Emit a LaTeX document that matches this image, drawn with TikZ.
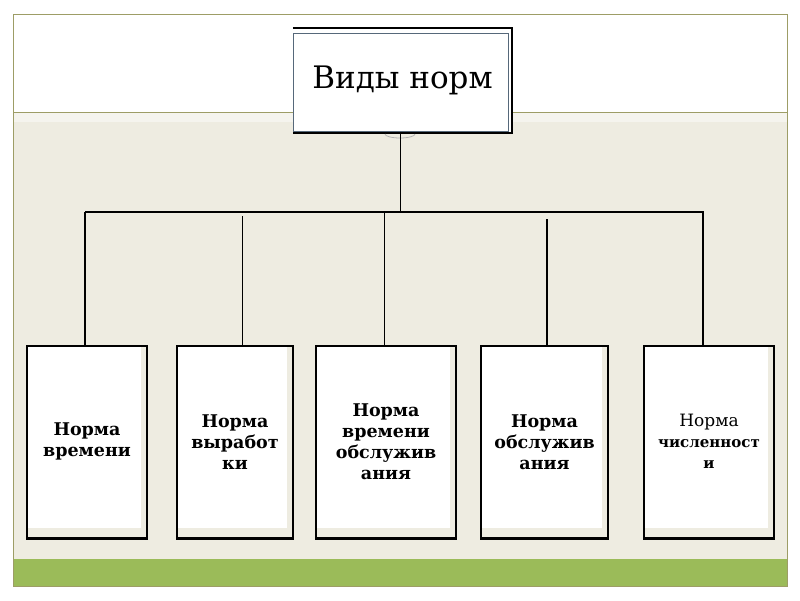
\documentclass[tikz,border=0pt]{standalone}
\usepackage{fontspec}
\setmainfont{DejaVu Serif}
\usetikzlibrary{positioning}
\definecolor{slidebeige}{HTML}{EEECE1}
\definecolor{slidepale}{HTML}{F5F4EE}
\definecolor{slidegreen}{HTML}{9BBB59}
\definecolor{slideline}{HTML}{9D9D66}
\definecolor{slate}{HTML}{56687A}

\begin{document}
\begin{tikzpicture}[
    x=1pt, y=-1pt,
    node distance=25pt,
    headbox/.style={fill=white, inner sep=0pt, minimum width=219pt, minimum height=105pt, font=\fontsize{31}{38}\selectfont},
    normbox/.style={draw=black, line width=1.5pt, fill=slidebeige, minimum height=192pt, inner sep=0pt, align=center, anchor=north,
        font=\fontsize{17.5}{21}\selectfont\bfseries,
        path picture={\fill[white] ([xshift=1pt,yshift=-1pt]path picture bounding box.north west) rectangle ([xshift=-6pt,yshift=10pt]path picture bounding box.south east);}},
    link/.style={draw=black, line width=0.8pt},
    boldlink/.style={draw=black, line width=1.6pt}
]
\useasboundingbox (0,0) rectangle (800,600);
% slide background
\fill[white] (0,0) rectangle (800,600);
\fill[slidepale] (13,112) rectangle (787,122);
\fill[slidebeige] (13,122) rectangle (787,559);
\fill[slidegreen] (13,559) rectangle (787,586);
\draw[slideline] (13,112) -- (787,112);
\draw[slideline] (13,14) rectangle (787,586);

% title box
\node[headbox] (0) at (402.5,80.5) {Виды норм};
\draw[slate, line width=0.6pt] ([yshift=-5pt]0.north west) rectangle ([xshift=-4pt,yshift=2pt]0.south east);
\draw[line width=2.5pt] (0.north west) -- (0.north east) -- (0.south east) -- (0.south west);
\draw[gray!60, line width=0.8pt] (385,134) arc[start angle=180, end angle=0, x radius=15, y radius=4];

% norm boxes
\node[normbox, minimum width=120pt] (1) at (87,345) {Норма\\времени};
\node[normbox, minimum width=116pt, right=28.5pt of 1] (2) {Норма\\выработ\\ки};
\node[normbox, minimum width=140pt, right=21.5pt of 2] (3) {Норма\\времени\\обслужив\\ания};
\node[normbox, minimum width=127pt, right=23.5pt of 3] (4) {Норма\\обслужив\\ания};
\node[normbox, minimum width=130pt, right=34.5pt of 4, font=\fontsize{15}{21}\selectfont\bfseries] (5) {{\fontsize{17}{21}\selectfont\mdseries Норма}\\численност\\и};
\foreach \n in {1,...,5}
    \draw[line width=2.6pt] (\n.south west) -- (\n.south east);

% connectors
\coordinate (hub) at (400,212);
\coordinate (barL) at (85,212);
\coordinate (barR) at (704,212);
\coordinate (t1) at (85,212);
\coordinate (t2) at (242,216);
\coordinate (t3) at (384,212);
\coordinate (t4) at (547,219);
\coordinate (t5) at (703,212);

\draw[link] (hub |- 0.south) -- (hub);
\draw[line width=2.6pt] (barL) -- (barR);
\draw[boldlink] (t1) -- (t1 |- 1.north);
\draw[link] (t2) -- (t2 |- 2.north);
\draw[link] (t3) -- (t3 |- 3.north);
\draw[boldlink] (t4) -- (t4 |- 4.north);
\draw[boldlink] (t5) -- (t5 |- 5.north);
\end{tikzpicture}
\end{document}
